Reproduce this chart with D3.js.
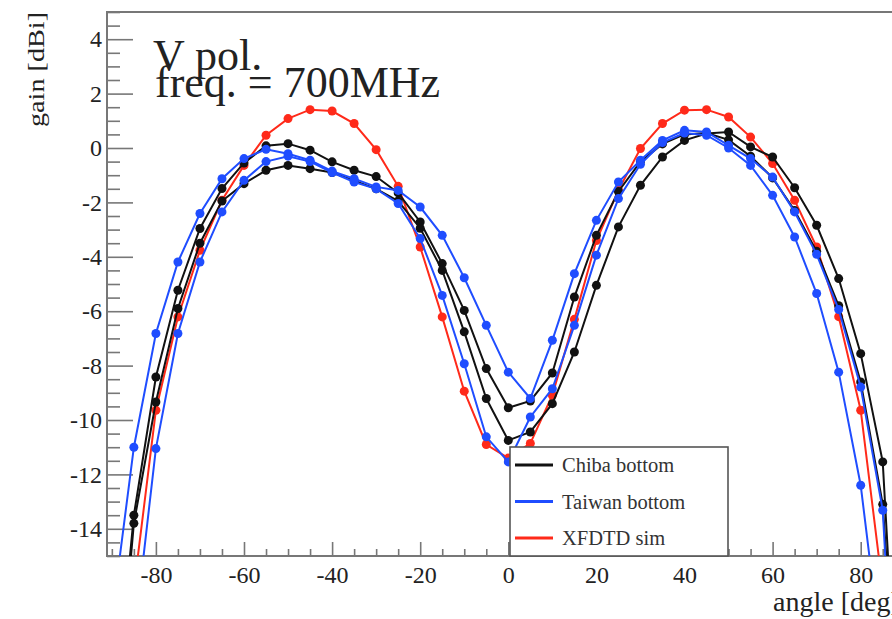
<!DOCTYPE html>
<html>
<head>
<meta charset="utf-8">
<script src="https://cdn.jsdelivr.net/npm/d3@7"></script>
<style>
  body { margin: 0; background: #fff; }
  svg { display: block; }
  text { font-family: "Liberation Serif", "Times New Roman", serif; }
</style>
</head>
<body>
<svg id="chart" width="892" height="619"></svg>
<script>
// angle in degrees, gain in dBi
var angles = [-90,-85,-80,-75,-70,-65,-60,-55,-50,-45,-40,-35,-30,-25,-20,-15,-10,-5,0,5,10,15,20,25,30,35,40,45,50,55,60,65,70,75,80,85,90];

var chibaA = [-22,-13.5,-8.42,-5.23,-2.96,-1.49,-0.55,0.08,0.16,-0.08,-0.51,-0.82,-1.05,-1.65,-2.72,-4.25,-5.97,-8.11,-9.55,-9.3,-8.27,-5.48,-3.21,-1.6,-0.5,0.15,0.5,0.55,0.3,-0.3,-1.1,-2.3,-3.8,-5.8,-8.6,-13.1,-25];
var chibaB = [-23,-13.8,-9.34,-5.9,-3.5,-1.95,-1.31,-0.82,-0.64,-0.76,-0.9,-1.2,-1.5,-1.95,-2.95,-4.5,-6.76,-9.21,-10.75,-10.44,-9.4,-7.5,-5.05,-2.9,-1.37,-0.33,0.28,0.53,0.59,0.04,-0.33,-1.46,-2.84,-4.8,-7.56,-11.54,-26];
var taiwanA = [-17.3,-11,-6.82,-4.19,-2.41,-1.13,-0.39,-0.05,-0.21,-0.45,-0.85,-1.13,-1.43,-1.56,-2.17,-3.21,-4.77,-6.52,-8.24,-9.21,-7.07,-4.62,-2.66,-1.25,-0.45,0.28,0.65,0.59,0.1,-0.39,-1.07,-2.35,-3.91,-5.94,-8.79,-13.32,-28];
var taiwanB = [-28,-18.1,-11.05,-6.82,-4.19,-2.35,-1.19,-0.5,-0.3,-0.5,-0.9,-1.25,-1.5,-2.04,-3.33,-5.42,-7.93,-10.62,-11.54,-9.89,-8.85,-6.52,-3.94,-1.86,-0.6,0.2,0.55,0.47,0,-0.64,-1.74,-3.27,-5.35,-8.24,-12.4,-19,-30];
var xfdtd = [-24,-16.2,-9.64,-6.21,-3.76,-1.92,-0.64,0.47,1.08,1.41,1.36,0.9,-0.06,-1.41,-3.64,-6.21,-8.94,-10.9,-11.4,-10.86,-9.09,-6.3,-3.4,-1.55,-0.02,0.9,1.39,1.41,1.14,0.4,-0.57,-1.92,-3.64,-6.2,-9.64,-16.2,-24];

var xMajor = [-80,-60,-40,-20,0,20,40,60,80];
var xMinor = [-90,-85,-75,-70,-65,-55,-50,-45,-35,-30,-25,-15,-10,-5,5,10,15,25,30,35,45,50,55,65,70,75,85,90];
var yMajor = [-14,-12,-10,-8,-6,-4,-2,0,2,4];
var yMinor = [-15,-14.5,-13.5,-13,-12.5,-11.5,-11,-10.5,-9.5,-9,-8.5,-7.5,-7,-6.5,-5.5,-5,-4.5,-3.5,-3,-2.5,-1.5,-1,-0.5,0.5,1,1.5,2.5,3,3.5,4.5,5];

var legendNames = ["Chiba bottom", "Taiwan bottom", "XFDTD sim"];
var legendColors = ["#111111", "#1f4dff", "#ff2a1a"];

// draw order: sim first, then Chiba, then Taiwan on top
var series = [
  {values: xfdtd, color: "#ff2a1a"},
  {values: chibaA, color: "#111111"},
  {values: chibaB, color: "#111111"},
  {values: taiwanA, color: "#1f4dff"},
  {values: taiwanB, color: "#1f4dff"}
];

var serif = "'Liberation Serif', 'Times New Roman', serif";
var frame = {left: 107, top: 12, bottom: 556, right: 909.6};

var svg = d3.select("#chart");

var x = d3.scaleLinear()
  .domain([-91.1, 91.1])
  .range([frame.left, frame.right]);

var y = d3.scaleLinear()
  .domain([-15, 5])
  .range([frame.bottom, frame.top]);

// plain hyphen for negative labels, like ROOT
var plain = function(d) { return String(d); };

svg.append("rect")
  .attr("width", 892)
  .attr("height", 619)
  .attr("fill", "#fff");

svg.append("clipPath")
  .attr("id", "frameClip")
  .append("rect")
  .attr("x", frame.left)
  .attr("y", frame.top)
  .attr("width", frame.right - frame.left)
  .attr("height", frame.bottom - frame.top);

// ticks (pointing into the frame, ROOT style)
var xAxisG = svg.append("g")
  .attr("transform", "translate(0," + frame.bottom + ")");

xAxisG.append("g")
  .call(d3.axisBottom(x).tickValues(xMinor).tickSize(-7).tickSizeOuter(0).tickFormat(""));

xAxisG.append("g")
  .call(d3.axisBottom(x).tickValues(xMajor).tickSize(-14).tickSizeOuter(0).tickPadding(10).tickFormat(plain));

var yAxisG = svg.append("g")
  .attr("transform", "translate(" + frame.left + ",0)");

yAxisG.append("g")
  .call(d3.axisLeft(y).tickValues(yMinor).tickSize(-13).tickSizeOuter(0).tickFormat(""));

yAxisG.append("g")
  .call(d3.axisLeft(y).tickValues(yMajor).tickSize(-26).tickSizeOuter(0).tickPadding(5).tickFormat(plain));

svg.selectAll(".domain").remove();
svg.selectAll(".tick line")
  .attr("stroke", "#777")
  .attr("stroke-width", 1.6);
xAxisG.selectAll("g").attr("font-family", serif).attr("font-size", 24);
yAxisG.selectAll("g").attr("font-family", serif).attr("font-size", 24);
svg.selectAll(".tick text")
  .attr("fill", "#222");

// frame
svg.append("rect")
  .attr("x", frame.left)
  .attr("y", frame.top)
  .attr("width", frame.right - frame.left)
  .attr("height", frame.bottom - frame.top)
  .attr("fill", "none")
  .attr("stroke", "#777")
  .attr("stroke-width", 2);

// curves
var line = d3.line()
  .x(function(d) { return x(d[0]); })
  .y(function(d) { return y(d[1]); });

var plot = svg.append("g")
  .attr("clip-path", "url(#frameClip)");

series.forEach(function(s) {
  var pts = angles.map(function(a, i) { return [a, s.values[i]]; });

  plot.append("path")
    .datum(pts)
    .attr("d", line)
    .attr("fill", "none")
    .attr("stroke", s.color)
    .attr("stroke-width", 2);

  plot.selectAll(null)
    .data(pts)
    .enter()
    .append("circle")
    .attr("cx", function(d) { return x(d[0]); })
    .attr("cy", function(d) { return y(d[1]); })
    .attr("r", 4.5)
    .attr("fill", s.color);
});

// legend box
var legend = svg.append("g");

legend.append("rect")
  .attr("x", 510)
  .attr("y", 447)
  .attr("width", 218)
  .attr("height", frame.bottom - 447)
  .attr("fill", "#fff")
  .attr("stroke", "#555")
  .attr("stroke-width", 1.6);

var legendY = d3.scalePoint()
  .domain(legendNames)
  .range([465, 538]);

legendNames.forEach(function(name, i) {
  legend.append("line")
    .attr("x1", 515)
    .attr("x2", 553)
    .attr("y1", legendY(name))
    .attr("y2", legendY(name))
    .attr("stroke", legendColors[i])
    .attr("stroke-width", 3);

  legend.append("text")
    .attr("x", 562)
    .attr("y", legendY(name))
    .attr("dy", "0.35em")
    .attr("fill", "#333")
    .style("font-size", "20.5px")
    .text(name);
});

// titles
svg.append("text")
  .attr("transform", "translate(44," + frame.top + ")rotate(-90)")
  .attr("text-anchor", "end")
  .attr("fill", "#222")
  .attr("textLength", 115)
  .attr("lengthAdjust", "spacingAndGlyphs")
  .style("font-size", "24px")
  .text("gain [dBi]");

svg.append("text")
  .attr("x", 773)
  .attr("y", 611)
  .attr("fill", "#222")
  .style("font-size", "28px")
  .text("angle [deg]");

svg.append("text")
  .attr("x", 153)
  .attr("y", 70)
  .attr("fill", "#222")
  .style("font-size", "44px")
  .text("V pol.");

svg.append("text")
  .attr("x", 155)
  .attr("y", 97)
  .attr("fill", "#222")
  .style("font-size", "44px")
  .text("freq. = 700MHz");
</script>
</body>
</html>
